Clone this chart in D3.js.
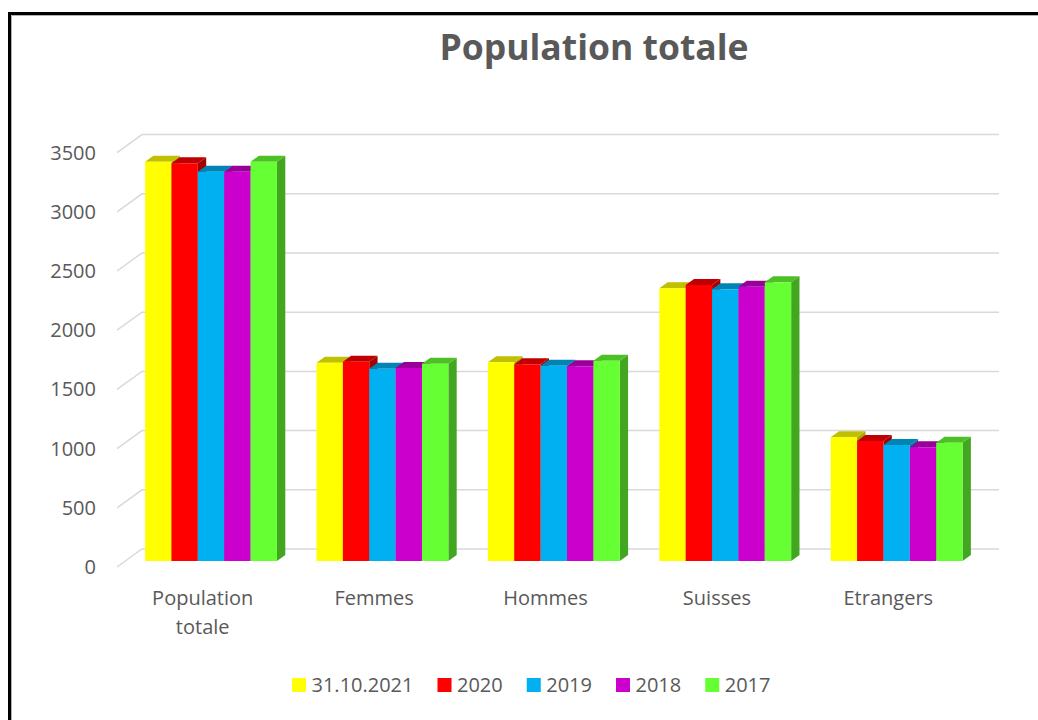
<!DOCTYPE html>
<html>
<head>
  <meta charset="utf-8">
  <title>Population totale</title>
  <script src="https://d3js.org/d3.v7.min.js"></script>
  <style>
    html, body { margin: 0; padding: 0; background: #fff; overflow: hidden; }
    svg { display: block; }
    text { font-family: "Open Sans", Lato, sans-serif; fill: #595959; }
    .title { font-size: 35.5px; font-weight: bold; }
    .tick { font-size: 20px; }
    .cat { font-size: 20px; }
    .legend { font-size: 20px; }
  </style>
</head>
<body>
  <script>
    var categories = ["Population totale", "Femmes", "Hommes", "Suisses", "Etrangers"];
    var seriesNames = ["31.10.2021", "2020", "2019", "2018", "2017"];
    var colors = ["#FFFF00", "#FF0000", "#00B0F0", "#CC00CC", "#66FF33"];
    var v2021 = [3372, 1675, 1678, 2303, 1045];
    var v2020 = [3359, 1683, 1661, 2331, 1014];
    var v2019 = [3288, 1624, 1650, 2295, 980];
    var v2018 = [3288, 1630, 1644, 2317, 960];
    var v2017 = [3372, 1666, 1692, 2354, 999];
    var yTicks = [0, 500, 1000, 1500, 2000, 2500, 3000, 3500];

    var seriesValues = [v2021, v2020, v2019, v2018, v2017];

    // floor front-left corner and depth offset of the back wall
    var ox = 117, oy = 567, dx = 25, dy = -18;
    var plotW = 857, plotH = 414.4;

    var x0 = d3.scaleBand().domain(categories).range([0, plotW]).paddingInner(0);
    var x1 = d3.scaleBand().domain(seriesNames).range([0, x0.bandwidth()]).paddingInner(0).paddingOuter(0.75);
    var y = d3.scaleLinear().domain([0, 3500]).range([0, plotH]);

    // project (x along axis, value, depth 0..1) to screen
    function P(x, v, d) {
      return [ox + x + d * dx, oy - y(v) + d * dy];
    }

    var svg = d3.select("body").append("svg")
        .attr("width", 1038)
        .attr("height", 720);

    // chart border: only top and left edges show in the frame
    svg.append("path")
        .attr("d", "M9.5,720V13.5H1038")
        .attr("fill", "none").attr("stroke", "#000").attr("stroke-width", 3);
    svg.append("path")
        .attr("d", "M11.5,720V15.5H1038")
        .attr("fill", "none").attr("stroke", "#b0b0b0").attr("stroke-width", 1);

    svg.append("text")
        .attr("class", "title")
        .attr("x", 594).attr("y", 60)
        .attr("text-anchor", "middle")
        .text("Population totale");

    var line = d3.line();

    // gridlines: side wall diagonal + back wall horizontal
    svg.append("g").selectAll("path")
        .data(yTicks)
        .enter().append("path")
          .attr("d", t => line([P(0, t, 0), P(0, t, 1), P(plotW, t, 1)]))
          .attr("fill", "none")
          .attr("stroke", "#d9d9d9")
          .attr("stroke-width", 1.5);

    svg.append("g").selectAll("text")
        .data(yTicks)
        .enter().append("text")
          .attr("class", "tick")
          .attr("x", 96)
          .attr("y", t => P(0, t, 0)[1])
          .attr("dy", "0.35em")
          .attr("text-anchor", "end")
          .text(t => t);

    // bars
    var d0 = 1 / 3, d1 = 2 / 3;
    var bw = x1.bandwidth();
    var bars = [];
    categories.forEach(function(c, ci) {
      seriesNames.forEach(function(s, si) {
        bars.push({xl: x0(c) + x1(s), v: seriesValues[si][ci], color: colors[si]});
      });
    });

    var barG = svg.append("g").selectAll("g")
        .data(bars)
        .enter().append("g");

    barG.append("path")
        .attr("d", b => line([P(b.xl + bw, 0, d0), P(b.xl + bw, 0, d1), P(b.xl + bw, b.v, d1), P(b.xl + bw, b.v, d0)]) + "Z")
        .attr("fill", b => d3.color(b.color).darker(1.2));
    barG.append("path")
        .attr("d", b => line([P(b.xl, b.v, d0), P(b.xl + bw, b.v, d0), P(b.xl + bw, b.v, d1), P(b.xl, b.v, d1)]) + "Z")
        .attr("fill", b => d3.color(b.color).darker(0.8));
    barG.append("path")
        .attr("d", b => line([P(b.xl, 0, d0), P(b.xl + bw, 0, d0), P(b.xl + bw, b.v, d0), P(b.xl, b.v, d0)]) + "Z")
        .attr("fill", b => b.color);

    // category labels, wrapped when too wide
    var catG = svg.append("g");
    categories.forEach(function(c) {
      var cx = ox + x0(c) + x0.bandwidth() / 2;
      var t = catG.append("text").attr("class", "cat")
          .attr("x", cx).attr("y", 605).attr("text-anchor", "middle").text(c);
      if (t.node().getComputedTextLength() > 130) {
        t.text(null);
        c.split(" ").forEach(function(w, i) {
          t.append("tspan").attr("x", cx).attr("y", 605 + i * 29).text(w);
        });
      }
    });

    // legend
    var lx = 292, ly = 685;
    var legG = svg.append("g");
    seriesNames.forEach(function(s, i) {
      legG.append("rect")
          .attr("x", lx).attr("y", ly - 7)
          .attr("width", 14).attr("height", 14)
          .attr("fill", colors[i]);
      var t = legG.append("text").attr("class", "legend")
          .attr("x", lx + 19.5).attr("y", ly).attr("dy", "0.35em").text(s);
      lx += 19.5 + t.node().getComputedTextLength() + 24;
    });
  </script>
</body>
</html>
